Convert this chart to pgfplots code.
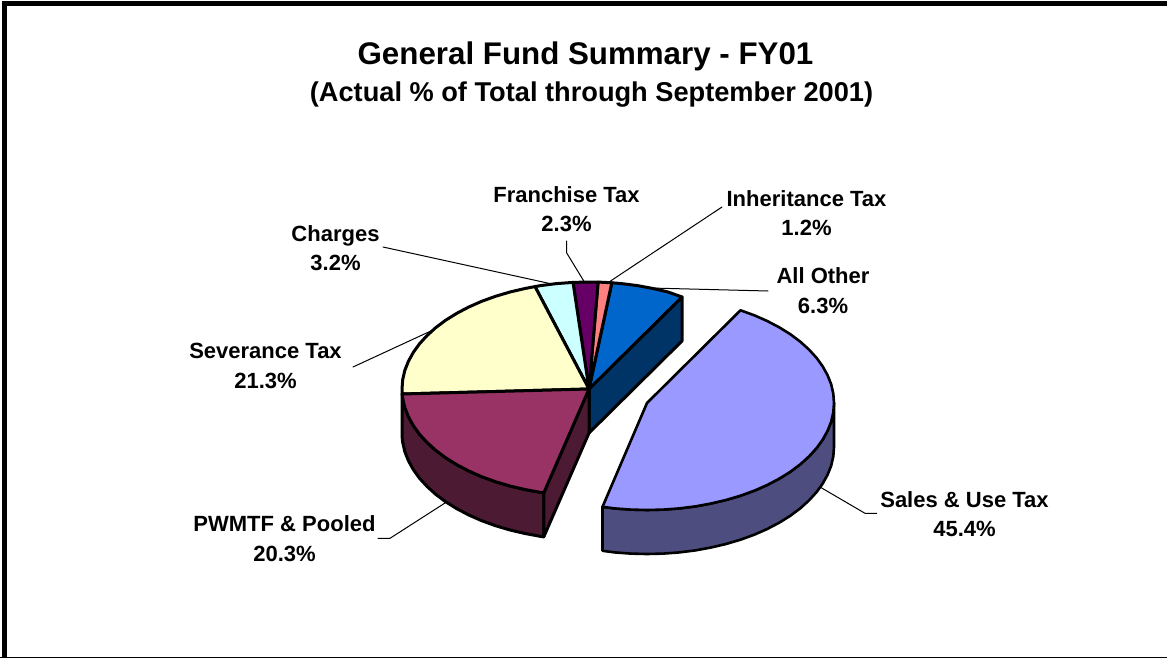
\documentclass[border=0pt]{standalone}
\usepackage{pgfplots}
\pgfplotsset{compat=1.18}
\usepackage{fontspec}
\setmainfont{Liberation Sans}
\definecolor{salesC}{HTML}{9999FF}
\definecolor{salesD}{HTML}{4D4D80}
\definecolor{blueC}{HTML}{0066CC}
\definecolor{blueD}{HTML}{003366}
\definecolor{pinkC}{HTML}{FF8080}
\definecolor{purpC}{HTML}{660066}
\definecolor{cyanC}{HTML}{CCFFFF}
\definecolor{yelC}{HTML}{FFFFCC}
\definecolor{marC}{HTML}{993366}
\definecolor{marD}{HTML}{4D1A33}
\tikzset{lbl/.style={font=\bfseries\fontsize{22}{29.5}\selectfont, align=center, text=black, inner sep=0pt}}
\begin{document}
\begin{tikzpicture}
\useasboundingbox (0pt,0pt) rectangle (1167pt,658pt);
\begin{axis}[
  at={(0pt,0pt)}, anchor=south west,
  width=1167pt, height=658pt, scale only axis,
  xmin=0, xmax=1167, ymin=0, ymax=658, y dir=reverse,
  hide axis, clip=true,
  every axis plot/.append style={line join=round, line cap=round},
]
% frame
\addplot[draw=black, line width=5pt, line join=miter] coordinates {(4.5,660) (4.5,4) (1170,4)};
\addplot[draw=black, line width=3pt] coordinates {(0,658) (1167,658)};
% leaders
\addplot[draw=black, line width=1pt] coordinates {(383,247) (552,284)};
\addplot[draw=black, line width=1pt] coordinates {(566.7,241) (566.7,253) (585,283)};
\addplot[draw=black, line width=1pt] coordinates {(722,207) (606,284)};
\addplot[draw=black, line width=1pt] coordinates {(650,288) (768,291)};
\addplot[draw=black, line width=1pt] coordinates {(353,367) (433,330)};
\addplot[draw=black, line width=1pt] coordinates {(378,538.3) (390,538.3) (445,503)};
\addplot[draw=black, line width=1pt] coordinates {(820,487) (865,513.3) (876.7,513.3)};
% sales side
\addplot[draw=black, fill=salesD, line width=2.6pt] coordinates {
(834,403)(833.3,412.3)(831.2,421.6)(827.6,430.7)(822.7,439.6)(816.5,448.2)(808.9,456.5)(800.2,464.4)(790.3,471.8)(779.2,478.7)(767.2,485)(754.3,490.7)(740.5,495.7)(726,500)(711,503.5)(695.4,506.4)(679.5,508.4)(663.3,509.6)(647,510)(630.7,509.6)(614.5,508.4)(602.5,506.8)
(602.5,550.8)(614.5,552.4)(630.7,553.6)(647,554)(663.3,553.6)(679.5,552.4)(695.4,550.4)(711,547.5)(726,544)(740.5,539.7)(754.3,534.7)(767.2,529)(779.2,522.7)(790.3,515.8)(800.2,508.4)(808.9,500.5)(816.5,492.2)(822.7,483.6)(827.6,474.7)(831.2,465.6)(833.3,456.3)(834,447)
} -- cycle;
% sales top
\addplot[draw=black, fill=salesC, line width=2.6pt] coordinates {
(647,403)(740.5,310.3)(754.3,315.3)(767.2,321)(779.2,327.3)(790.3,334.2)(800.2,341.6)(808.9,349.5)(816.5,357.8)(822.7,366.4)(827.6,375.3)(831.2,384.4)(833.3,393.7)(834,403)(833.3,412.3)(831.2,421.6)(827.6,430.7)(822.7,439.6)(816.5,448.2)(808.9,456.5)(800.2,464.4)(790.3,471.8)(779.2,478.7)(767.2,485)(754.3,490.7)(740.5,495.7)(726,500)(711,503.5)(695.4,506.4)(679.5,508.4)(663.3,509.6)(647,510)(630.7,509.6)(614.5,508.4)(602.5,506.8)
} -- cycle;
% blue cut face
\addplot[draw=black, fill=blueD, line width=3pt] coordinates {(589,389)(682,297)(682,341)(589,433)} -- cycle;
% maroon outer side
\addplot[draw=black, fill=marD, line width=3pt] coordinates {
(402.2,394)(402.7,398.3)(404.8,407.6)(408.4,416.7)(413.3,425.6)(419.5,434.2)(427.1,442.5)(435.8,450.4)(445.7,457.8)(456.8,464.7)(468.8,471)(481.7,476.7)(495.5,481.7)(510,486)(525,489.5)(540.6,492.4)(543.8,492.8)
(543.8,536.8)(540.6,536.4)(525,533.5)(510,530)(495.5,525.7)(481.7,520.7)(468.8,515)(456.8,508.7)(445.7,501.8)(435.8,494.4)(427.1,486.5)(419.5,478.2)(413.3,469.6)(408.4,460.7)(404.8,451.6)(402.7,442.3)(402.2,438)
} -- cycle;
% maroon cut face
\addplot[draw=black, fill=marD, line width=3pt] coordinates {(543.8,492.8)(589,389)(589,433)(543.8,536.8)} -- cycle;
% top faces
\addplot[draw=black, fill=blueC, line width=3pt] coordinates {(589,389)(682,297)(668,292)(653,288.5)(637.4,285.6)(621.5,283.6)(611.8,282.8)} -- cycle;
\addplot[draw=black, fill=pinkC, line width=3pt] coordinates {(589,389)(611.8,282.8)(605.3,282.4)(598.1,282.1)} -- cycle;
\addplot[draw=black, fill=purpC, line width=3pt] coordinates {(589,389)(598.1,282.1)(589,282)(573,282.4)} -- cycle;
\addplot[draw=black, fill=cyanC, line width=3pt] coordinates {(589,389)(573,282.4)(556.5,283.6)(540.6,285.6)(535,286.6)} -- cycle;
\addplot[draw=black, fill=yelC, line width=3pt] coordinates {(589,389)(535,286.6)(525,288.5)(510,292)(495.5,296.3)(481.7,301.3)(468.8,307)(456.8,313.3)(445.7,320.2)(435.8,327.6)(427.1,335.5)(419.5,343.8)(413.3,352.4)(408.4,361.3)(404.8,370.4)(402.7,379.7)(402,389)(402.2,394)} -- cycle;
\addplot[draw=black, fill=marC, line width=3pt] coordinates {(589,389)(402.2,394)(402.7,398.3)(404.8,407.6)(408.4,416.7)(413.3,425.6)(419.5,434.2)(427.1,442.5)(435.8,450.4)(445.7,457.8)(456.8,464.7)(468.8,471)(481.7,476.7)(495.5,481.7)(510,486)(525,489.5)(540.6,492.4)(543.8,492.8)} -- cycle;
% titles
\node[lbl, font=\bfseries\fontsize{31.3}{34}\selectfont] at (axis cs:585.5,56) {General Fund Summary - FY01};
\node[lbl, font=\bfseries\fontsize{27.2}{30}\selectfont] at (axis cs:591.5,95) {(Actual \% of Total through September 2001)};
% labels
\node[lbl] at (axis cs:566.5,209) {Franchise Tax\\2.3\%};
\node[lbl] at (axis cs:806.5,213) {Inheritance Tax\\1.2\%};
\node[lbl] at (axis cs:823,290.5) {All Other\\6.3\%};
\node[lbl] at (axis cs:335.5,248) {Charges\\3.2\%};
\node[lbl] at (axis cs:265.5,366) {Severance Tax\\21.3\%};
\node[lbl] at (axis cs:284.5,538.5) {PWMTF \& Pooled\\20.3\%};
\node[lbl] at (axis cs:964.5,514) {Sales \& Use Tax\\45.4\%};
\end{axis}
\end{tikzpicture}
\end{document}
